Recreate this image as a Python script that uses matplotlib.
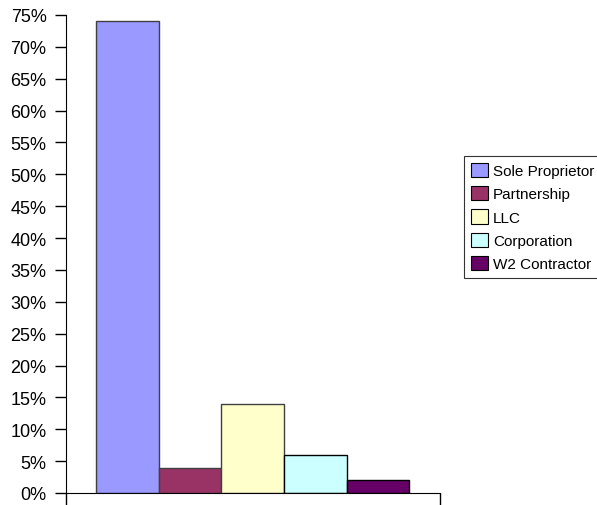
import matplotlib
matplotlib.use("Agg")
import matplotlib.pyplot as plt
from matplotlib.patches import Patch
from matplotlib.ticker import FuncFormatter

# business structure shares (percent)
categories = ["Sole Proprietor", "Partnership", "LLC", "Corporation", "W2 Contractor"]
shares = [74, 4, 14, 6, 2]
colors = ["#9999FF", "#993366", "#FFFFCC", "#CCFFFF", "#660066"]
edges = ["#404040", "#404040", "#404040", "#000000", "#000000"]

plt.rcParams["font.family"] = ["Liberation Sans", "DejaVu Sans"]

fig = plt.figure(figsize=(5.97, 5.06), dpi=100)
ax = fig.add_axes([66/597, 1-494/506, (440-66)/597, (494-16)/506])

xs = list(range(len(categories)))
ax.bar(xs, shares, width=1.0, color=colors, edgecolor=edges, linewidth=1)

ax.set_ylim(0, 75)
ax.set_yticks(range(0, 80, 5))
ax.yaxis.set_major_formatter(FuncFormatter(lambda v, p: "%d%%" % v))
ax.tick_params(axis="y", direction="out", length=8, width=1, labelsize=13, pad=6)

lo, hi = -0.98, 4.99
ax.set_xlim(lo, hi)
ax.set_xticks([lo, hi])
ax.set_xticklabels(["", ""])
ax.tick_params(axis="x", direction="out", length=9, width=1)

ax.spines["top"].set_visible(False)
ax.spines["right"].set_visible(False)

handles = [Patch(facecolor=c, edgecolor="black", linewidth=0.8) for c in colors]
leg = fig.legend(handles, categories, loc="upper left",
                 bbox_to_anchor=(464/597, 1-157/506), fontsize=11,
                 frameon=True, fancybox=False, borderpad=0.45,
                 handlelength=1.1, handleheight=1.05, handletextpad=0.35,
                 labelspacing=0.52, borderaxespad=0)
leg.get_frame().set_edgecolor("black")
leg.get_frame().set_linewidth(0.8)

fig.savefig("out.png", dpi=100)
